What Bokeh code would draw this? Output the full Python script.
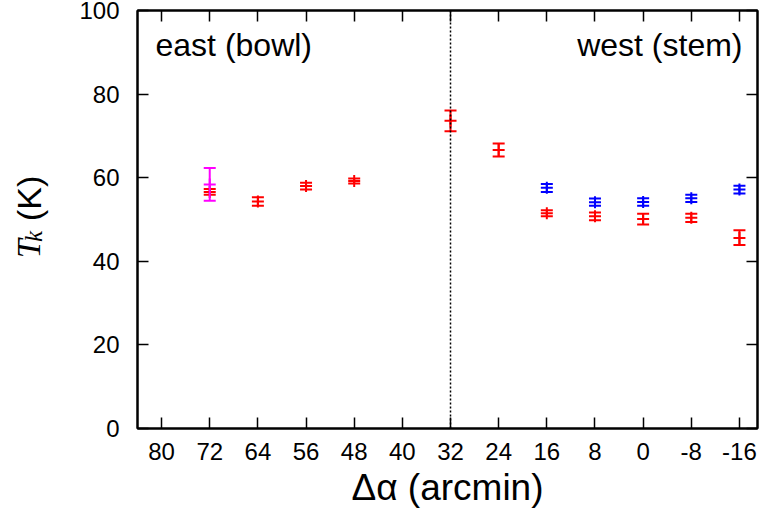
import math
from bokeh.plotting import figure
from bokeh.layouts import row
from bokeh.models import (ColumnDataSource, Whisker, TeeHead, Span, Label,
                          LinearAxis, FixedTicker, Range1d)
from bokeh.core.properties import value
from bokeh.embed import file_html
from bokeh.resources import INLINE

# ---- data ----
x_ticks = [80, 72, 64, 56, 48, 40, 32, 24, 16, 8, 0, -8, -16]
x_tick_labels = ["80", "72", "64", "56", "48", "40", "32", "24", "16", "8", "0", "-8", "-16"]
y_ticks = [0, 20, 40, 60, 80, 100]

red_x = [72, 64, 56, 48, 32, 24, 16, 8, 0, -8, -16]
red_y = [56.6, 54.3, 58.0, 59.2, 73.6, 66.6, 51.5, 50.8, 50.1, 50.4, 45.6]
red_lo = [55.9, 53.3, 57.2, 58.6, 71.1, 65.1, 50.8, 49.8, 48.8, 49.4, 43.9]
red_hi = [57.3, 55.3, 58.8, 59.8, 76.1, 68.2, 52.2, 51.7, 51.4, 51.4, 47.4]

blue_x = [16, 8, 0, -8, -16]
blue_y = [57.6, 54.1, 54.2, 55.1, 57.2]
blue_lo = [56.6, 53.3, 53.3, 54.2, 56.2]
blue_hi = [58.5, 55.0, 55.1, 55.9, 58.1]

mag_x = [72]
mag_y = [58.4]
mag_lo = [54.5]
mag_hi = [62.3]

divider_x = 32
x_label = "Δα (arcmin)"
east_text = "east (bowl)"
west_text = "west (stem)"

FONT = "Liberation Sans"
LABEL_W = 60

p = figure(width=761 - LABEL_W, height=518, x_range=Range1d(84, -19), y_range=Range1d(0, 100),
           output_backend="svg", toolbar_location=None,
           min_border_left=137 - LABEL_W, min_border_right=4, min_border_top=10,
           min_border_bottom=90)
p.xgrid.visible = False
p.ygrid.visible = False
p.outline_line_color = "black"
p.outline_line_width = 2
p.background_fill_color = "white"
p.border_fill_color = "white"

p.xaxis.ticker = FixedTicker(ticks=x_ticks)
p.yaxis.ticker = FixedTicker(ticks=y_ticks)

def style_axis(ax, labels=True):
    ax.major_tick_in = 11
    ax.major_tick_out = 0
    ax.minor_tick_in = 0
    ax.minor_tick_out = 0
    ax.major_tick_line_width = 1.5
    ax.major_tick_line_color = "black"
    ax.axis_line_width = 2
    ax.axis_line_color = "black"
    ax.major_label_text_font = FONT
    ax.major_label_text_color = "black"
    if labels:
        ax.major_label_text_font_size = "24px"
    else:
        ax.major_label_text_font_size = "0px"
        ax.major_label_standoff = 0

for ax in p.xaxis:
    style_axis(ax)
    ax.major_label_overrides = dict(zip(x_ticks, x_tick_labels))
    ax.major_label_standoff = 14
    ax.axis_label = x_label
    ax.axis_label_text_font = FONT
    ax.axis_label_text_font_size = "37px"
    ax.axis_label_text_font_style = "normal"
    ax.axis_label_text_color = "black"
    ax.axis_label_standoff = 4
for ax in p.yaxis:
    style_axis(ax)
    ax.major_label_standoff = 18

top = LinearAxis(ticker=FixedTicker(ticks=x_ticks))
style_axis(top, labels=False)
p.add_layout(top, "above")
right = LinearAxis(ticker=FixedTicker(ticks=y_ticks))
style_axis(right, labels=False)
p.add_layout(right, "right")

p.add_layout(Span(location=divider_x, dimension="height", line_color="black",
                  line_width=1.5, line_dash="2 2"))

def series(xs, ys, lo, hi, color):
    src = ColumnDataSource(dict(x=xs, y=ys, lo=lo, hi=hi))
    w = Whisker(source=src, base="x", upper="hi", lower="lo",
                line_color=color, line_width=2, level="glyph",
                upper_head=TeeHead(size=12, line_color=color, line_width=2),
                lower_head=TeeHead(size=12, line_color=color, line_width=2))
    p.add_layout(w)
    p.scatter("x", "y", source=src, marker="cross", size=12,
              line_color=color, line_width=2)

series(red_x, red_y, red_lo, red_hi, "#ff0000")
series(blue_x, blue_y, blue_lo, blue_hi, "#0000ff")
series(mag_x, mag_y, mag_lo, mag_hi, "#ff00ff")

# region annotations
p.add_layout(Label(x=18, y=384, x_units="screen", y_units="screen", text=east_text,
                   text_font=FONT, text_font_size="32px", text_color="black",
                   text_align="left", text_baseline="alphabetic"))
p.add_layout(Label(x=605, y=384, x_units="screen", y_units="screen", text=west_text,
                   text_font=FONT, text_font_size="32px", text_color="black",
                   text_align="right", text_baseline="alphabetic"))

# ---- y axis label panel: T_k (K) ----
lab = figure(width=LABEL_W, height=518, x_range=Range1d(0, LABEL_W), y_range=Range1d(0, 518),
             output_backend="svg", toolbar_location=None, min_border=0)
lab.axis.visible = False
lab.xgrid.visible = False
lab.ygrid.visible = False
lab.outline_line_color = None
lab.background_fill_color = "white"
lab.border_fill_color = "white"
ang = math.pi / 2
lab.text(x=[28], y=[211], text=["T"], angle=ang, text_font=value("Liberation Serif"),
         text_font_style="italic", text_font_size="34px", text_color="black",
         text_align="left", text_baseline="alphabetic")
lab.text(x=[33], y=[231], text=["k"], angle=ang, text_font=value("Liberation Serif"),
         text_font_style="italic", text_font_size="25px", text_color="black",
         text_align="left", text_baseline="alphabetic")
lab.text(x=[28], y=[257], text=["(K)"], angle=ang, text_font=value(FONT),
         text_font_size="34px", text_color="black",
         text_align="left", text_baseline="alphabetic")

layout = row(lab, p, spacing=0)
open("out.html", "w").write(file_html(layout, INLINE))
